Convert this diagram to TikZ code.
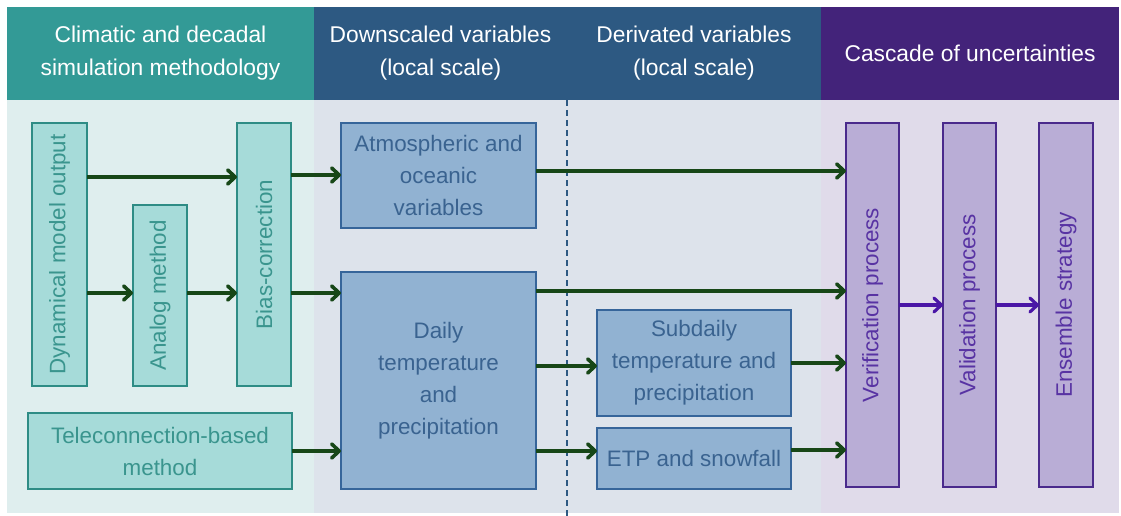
\documentclass[tikz,border=0pt]{standalone}
\usepackage{fontspec}
\usepackage{graphicx}
\setmainfont{Liberation Sans}
\usetikzlibrary{arrows.meta}

% palette
\definecolor{hteal}{HTML}{339A96}
\definecolor{hblue}{HTML}{2D5982}
\definecolor{hpurp}{HTML}{43237A}
\definecolor{bgteal}{HTML}{DFEEEE}
\definecolor{bgblue}{HTML}{DDE3EB}
\definecolor{bgpurp}{HTML}{E0DBEA}
\definecolor{tealfill}{HTML}{A6DBD9}
\definecolor{tealline}{HTML}{2E8C85}
\definecolor{tealtext}{HTML}{3A958E}
\definecolor{bluefill}{HTML}{91B2D2}
\definecolor{blueline}{HTML}{36659A}
\definecolor{bluetext}{HTML}{3A6390}
\definecolor{purpfill}{HTML}{B9ADD6}
\definecolor{purpline}{HTML}{4A2A8C}
\definecolor{purptext}{HTML}{5833A3}
\definecolor{flowgreen}{HTML}{174717}
\definecolor{flowpurp}{HTML}{4A16A6}

\tikzset{
  boxtext/.style={font=\fontsize{22.4}{32}\selectfont, align=center, inner sep=0pt, outer sep=0pt},
  head/.style={boxtext, text=white, font=\fontsize{22.8}{33}\selectfont},
  tealbox/.style={boxtext, draw=tealline, fill=tealfill, text=tealtext, line width=1.8pt},
  bluebox/.style={boxtext, draw=blueline, fill=bluefill, text=bluetext, line width=1.8pt},
  purpbox/.style={boxtext, draw=purpline, fill=purpfill, text=purptext, line width=1.8pt},
  flow/.style={draw=flowgreen, line width=3.6pt, -{Straight Barb[length=7.5pt,width=14pt,round]}},
  pflow/.style={draw=flowpurp, line width=3.2pt, -{Straight Barb[length=7.5pt,width=14pt,round]}},
}

\begin{document}
\begin{tikzpicture}[x=1pt,y=-1pt]
\useasboundingbox (0,0) rectangle (1121,516);

% column backgrounds
\fill[bgteal] (7,100) rectangle (314,513);
\fill[bgblue] (314,100) rectangle (821,513);
\fill[bgpurp] (821,100) rectangle (1119,513);

% column headers
\node[head, fill=hteal, minimum width=307, minimum height=93] (h1) at (160.5,53.5) {Climatic and decadal\\simulation methodology};
\node[head, fill=hblue, minimum width=253, minimum height=93] (h2) at (440.5,53.5) {Downscaled variables\\(local scale)};
\node[head, fill=hblue, minimum width=254, minimum height=93] (h3) at (694,53.5) {Derivated variables\\(local scale)};
\node[head, fill=hpurp, minimum width=298, minimum height=93] (h4) at (970,53.5) {Cascade of uncertainties};

% separator between downscaled and derived variables
\coordinate (sepTop) at (567,100);
\coordinate (sepBot) at (567,516);
\draw[hblue, line width=1.5pt, dash pattern=on 6pt off 4pt] (sepTop) -- (sepBot);

% simulation methodology
\node[tealbox, minimum width=55, minimum height=263] (dyn) at (59.5,254.5) {\rotatebox{90}{Dynamical model output}};
\node[tealbox, minimum width=54, minimum height=181] (analog) at (160,295.5) {\rotatebox{90}{Analog method}};
\node[tealbox, minimum width=54, minimum height=263] (bias) at (264,254.5) {\rotatebox{90}{Bias-correction}};
\node[tealbox, minimum width=264, minimum height=76] (tele) at (160,451) {Teleconnection-based\\method};

% downscaled variables
\node[bluebox, minimum width=195, minimum height=105] (atmo) at (438.5,175.5) {Atmospheric and\\oceanic\\variables};
\node[bluebox, minimum width=195, minimum height=217] (daily) at (438.5,380.5) {Daily\\temperature\\and\\precipitation};

% derived variables
\node[bluebox, minimum width=194, minimum height=106] (subd) at (694,363) {Subdaily\\temperature and\\precipitation};
\node[bluebox, minimum width=194, minimum height=61] (etp) at (694,458.5) {ETP and snowfall};

% cascade of uncertainties
\node[purpbox, minimum width=53, minimum height=364] (verif) at (872.5,305) {\rotatebox{90}{Verification process}};
\node[purpbox, minimum width=53, minimum height=364] (valid) at (969.5,305) {\rotatebox{90}{Validation process}};
\node[purpbox, minimum width=54, minimum height=364] (ens) at (1066,305) {\rotatebox{90}{Ensemble strategy}};

% row levels of the connectors
\coordinate (ya) at (0,177);
\coordinate (yb) at (0,175);
\coordinate (yc) at (0,171);
\coordinate (yd) at (0,293);
\coordinate (ye) at (0,291);
\coordinate (yf) at (0,366);
\coordinate (yg) at (0,363);
\coordinate (yh) at (0,451);
\coordinate (yi) at (0,450);
\coordinate (yp) at (0,305);

% connectors
\draw[flow] (dyn.east |- ya) -- (bias.west |- ya);
\draw[flow] (dyn.east |- yd) -- (analog.west |- yd);
\draw[flow] (analog.east |- yd) -- (bias.west |- yd);
\draw[flow] (bias.east |- yb) -- (atmo.west |- yb);
\draw[flow] (bias.east |- yd) -- (daily.west |- yd);
\draw[flow] (tele.east |- yh) -- (daily.west |- yh);
\draw[flow] (atmo.east |- yc) -- (verif.west |- yc);
\draw[flow] (daily.east |- ye) -- (verif.west |- ye);
\draw[flow] (daily.east |- yf) -- (subd.west |- yf);
\draw[flow] (daily.east |- yh) -- (etp.west |- yh);
\draw[flow] (subd.east |- yg) -- (verif.west |- yg);
\draw[flow] (etp.east |- yi) -- (verif.west |- yi);
\draw[pflow] (verif.east |- yp) -- (valid.west |- yp);
\draw[pflow] (valid.east |- yp) -- (ens.west |- yp);
\end{tikzpicture}
\end{document}
